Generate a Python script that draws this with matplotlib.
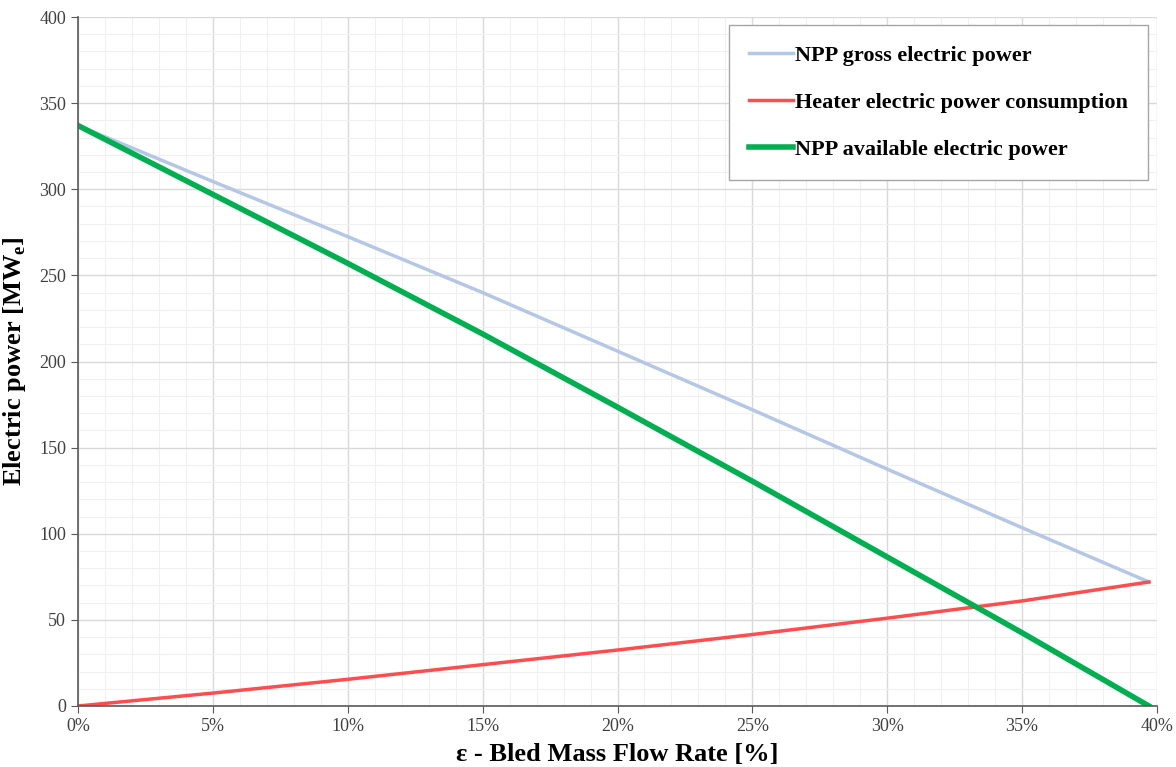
import matplotlib.pyplot as plt
from matplotlib.ticker import MultipleLocator, FuncFormatter

plt.rcParams['font.family'] = ['Liberation Serif', 'DejaVu Serif']

# bled mass flow rate [%]
eps = [0, 5, 10, 15, 20, 25, 30, 35, 39.7]
gross = [337, 304.5, 272.5, 240, 206, 172, 137.5, 103.5, 72]
heater = [0, 7.5, 15.5, 24, 32.5, 41.5, 51, 61, 72]
available = [337, 297, 257, 216, 173.5, 130.5, 86.5, 42.5, 0]

fig = plt.figure(figsize=(11.76, 7.67), dpi=100)
ax = fig.add_axes([78/1176, 61/767, 1079/1176, 689/767])

ax.plot(eps, gross, color='#b4c7e7', lw=2.5, label='NPP gross electric power')
ax.plot(eps, heater, color='#ff4d4d', lw=2.5, label='Heater electric power consumption')
ax.plot(eps, available, color='#00b050', lw=4, label='NPP available electric power')

ax.set_xlim(0, 40)
ax.set_ylim(0, 400)
ax.xaxis.set_major_locator(MultipleLocator(5))
ax.xaxis.set_minor_locator(MultipleLocator(1))
ax.yaxis.set_major_locator(MultipleLocator(50))
ax.yaxis.set_minor_locator(MultipleLocator(10))
ax.xaxis.set_major_formatter(FuncFormatter(lambda v, p: '%d%%' % v))

ax.grid(which='major', color='#d9d9d9', lw=1)
ax.grid(which='minor', color='#f0f0f0', lw=0.8)
ax.set_axisbelow(True)

for s in ['top', 'right']:
    ax.spines[s].set_visible(False)
for s in ['left', 'bottom']:
    ax.spines[s].set_color('#595959')
    ax.spines[s].set_linewidth(1.2)
ax.tick_params(which='major', direction='out', length=5, color='#595959',
               labelsize=13, labelcolor='#404040')
ax.tick_params(which='minor', length=0)

ax.set_xlabel(r'ε - Bled Mass Flow Rate [%]', fontsize=19, fontweight='bold', labelpad=6)
ax.set_ylabel(r'Electric power [MW$_\mathregular{e}$]', fontsize=19, fontweight='bold', labelpad=8)

leg = ax.legend(loc='upper right', bbox_to_anchor=(0.992, 0.988), fancybox=False,
                framealpha=1, edgecolor='#a6a6a6', prop={'weight': 'bold', 'size': 16},
                handlelength=2, handletextpad=0.1, labelspacing=1.2,
                borderpad=0.9, borderaxespad=0)
leg.get_frame().set_linewidth(1)

fig.savefig('out.png', dpi=100)
